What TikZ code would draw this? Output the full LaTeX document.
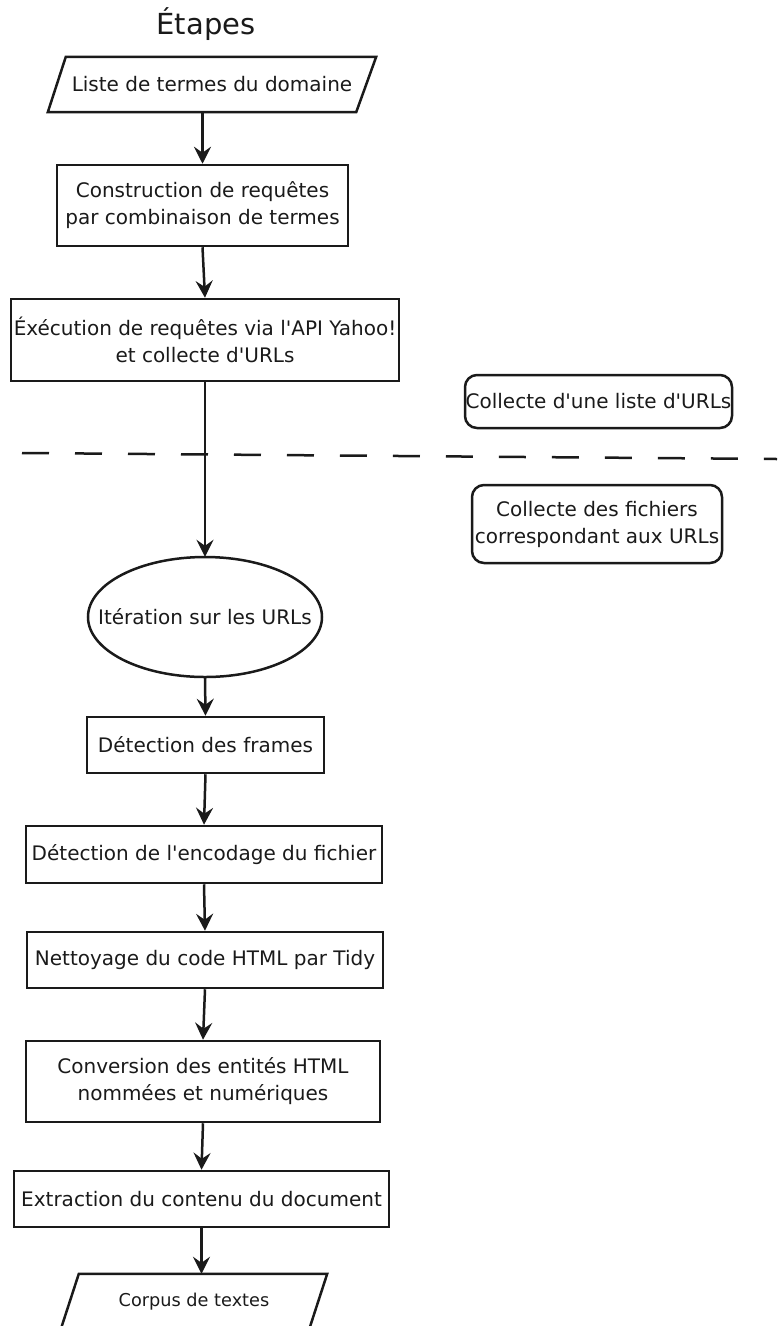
\documentclass[tikz,border=0pt]{standalone}
\usepackage{fontspec}
\setmainfont{DejaVu Sans}
\usetikzlibrary{arrows.meta,calc}
\definecolor{ink}{RGB}{26,26,26}
\newcommand{\apo}{\textquotesingle}
\tikzset{
  base/.style={inner sep=0pt, align=center, text=ink, font=\fontsize{20}{27}\selectfont},
  stepbox/.style={base, draw=ink, line width=2.5pt},
  roundbox/.style={stepbox, rounded corners=12pt},
  plain/.style={base},
  outline/.style={draw=ink, line width=2.5pt, line join=miter},
  arr/.style={draw=ink, line width=2.5pt, -{Stealth[length=17pt,width=17pt,inset=6pt]}},
  sep/.style={draw=ink, line width=2.5pt, dash pattern=on 27pt off 26pt}
}
\begin{document}
\begin{tikzpicture}[x=1pt,y=-1pt]
\useasboundingbox (0,0) rectangle (777,1326);
\clip (0,0) rectangle (777,1326);

\node[plain, font=\fontsize{29}{34}\selectfont] (title) at (206,24) {Étapes};

% input parallelogram
\node[plain, minimum width=328pt, minimum height=55pt] (p1) at (212,84.5) {Liste de termes du domaine};
\draw[outline] ($(p1.north west)+(18,0)$) -- (p1.north east) -- ($(p1.south east)-(20,0)$) -- (p1.south west) -- cycle;

\node[stepbox, minimum width=291pt, minimum height=81pt] (b2) at (202.5,205.5) {Construction de requêtes\\par combinaison de termes};
\node[stepbox, minimum width=388pt, minimum height=82pt] (b3) at (205,340) {Éxécution de requêtes via l\apo API Yahoo!\\et collecte d\apo URLs};

\node[roundbox, minimum width=267pt, minimum height=53pt] (r1) at (598.5,401.5) {Collecte d\apo une liste d\apo URLs};
\node[roundbox, minimum width=250pt, minimum height=78pt] (r2) at (597,524) {Collecte des fichiers\\correspondant aux URLs};

\coordinate (sepL) at (22,453);
\coordinate (sepR) at (777,459);
\draw[sep] (sepL) -- (sepR);

\node[plain, minimum width=234pt, minimum height=120pt] (e1) at (205,617) {Itération sur les URLs};
\draw[outline] (e1.center) ellipse [x radius=117pt, y radius=60pt];

\node[stepbox, minimum width=237pt, minimum height=56pt] (b5) at (205.5,745) {Détection des frames};
\node[stepbox, minimum width=356pt, minimum height=57pt] (b6) at (204,854.5) {Détection de l\apo encodage du fichier};
\node[stepbox, minimum width=356pt, minimum height=56pt] (b7) at (205,960) {Nettoyage du code HTML par Tidy};
\node[stepbox, minimum width=354pt, minimum height=81pt] (b8) at (203,1081.5) {Conversion des entités HTML\\nommées et numériques};
\node[stepbox, minimum width=375pt, minimum height=56pt] (b9) at (201.5,1199) {Extraction du contenu du document};

% output parallelogram
\node[plain, minimum width=266pt, minimum height=55pt, font=\fontsize{17.7}{22}\selectfont] (p2) at (194,1301.5) {Corpus de textes};
\draw[outline] ($(p2.north west)+(18,0)$) -- (p2.north east) -- ($(p2.south east)-(18,0)$) -- (p2.south west) -- cycle;

% connectors
\draw[arr] (p1.south -| b2.north) -- (b2.north);
\draw[arr] (b2.south) -- (b3.north);
\draw[arr] (b3.south) -- (e1.north);
\draw[arr] (e1.south) -- (b5.north);
\draw[arr] (b5.south) -- (b6.north);
\draw[arr] (b6.south) -- (b7.north);
\draw[arr] (b7.south) -- (b8.north);
\draw[arr] (b8.south) -- (b9.north);
\draw[arr] (b9.south) -- (b9.south |- p2.north);
\end{tikzpicture}
\end{document}
